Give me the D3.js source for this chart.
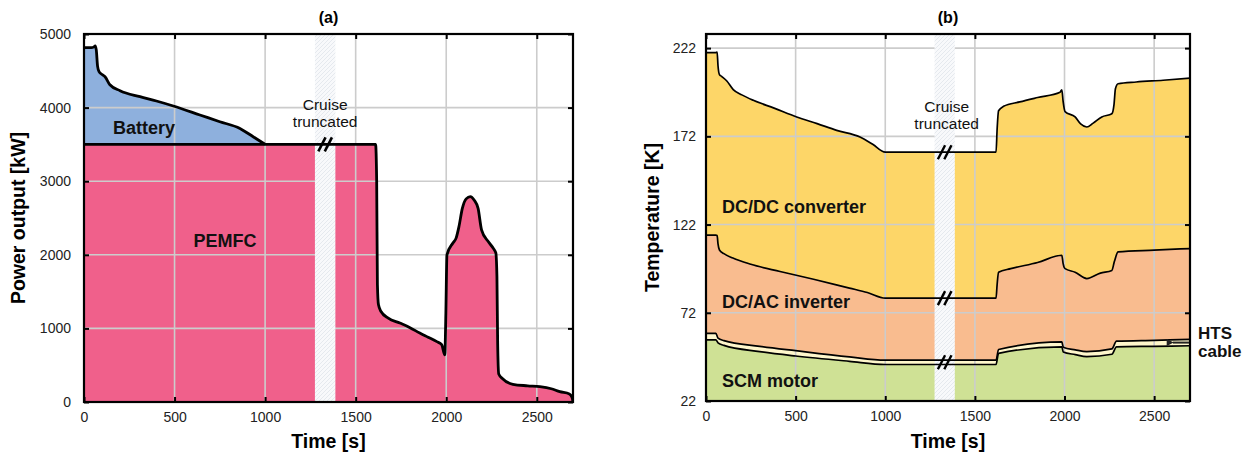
<!DOCTYPE html>
<html>
<head>
<meta charset="utf-8">
<script src="https://cdn.jsdelivr.net/npm/d3@7"></script>
<style>
  html, body { margin: 0; padding: 0; background: #ffffff; }
  svg { display: block; font-family: "Liberation Sans", Arial, Helvetica, sans-serif; }
</style>
</head>
<body>
<svg id="chart" width="1253" height="458"></svg>
<script>
// ---------------- DATA ----------------
const xTicks = [0, 500, 1000, 1500, 2000, 2500];
const powerTicks = [0, 1000, 2000, 3000, 4000, 5000];
const tempTicks = [22, 72, 122, 172, 222];
const truncatedSpan = [1275, 1388];

// Panel (a): total power (battery on top of PEMFC) while the battery assists
const totalPower = [
  [0, 4815], [40, 4815], [55, 4825], [62, 4840], [68, 4780], [75, 4560], [83, 4490],
  [100, 4450], [116, 4420], [143, 4310], [199, 4230], [309, 4148], [400, 4090],
  [493, 4022], [640, 3900], [750, 3808], [861, 3717], [934, 3604], [1000, 3500]
];
const batteryBase = 3500;
// PEMFC power
const pemfcPower = [
  [0, 3500], [1610, 3500], [1616, 3000], [1620, 1600], [1626, 1320], [1640, 1230],
  [1680, 1140], [1744, 1073], [1800, 1010], [1854, 937], [1900, 880], [1948, 820],
  [1975, 780], [1992, 640], [1998, 1200], [2004, 2000], [2037, 2160], [2055, 2230],
  [2070, 2380], [2089, 2630], [2110, 2760], [2133, 2790], [2155, 2740], [2176, 2630],
  [2195, 2340], [2232, 2180], [2262, 2080], [2274, 2025], [2280, 1700], [2284, 800],
  [2290, 380], [2310, 320], [2368, 240], [2450, 220], [2517, 208], [2580, 180],
  [2627, 140], [2680, 110], [2695, 60], [2700, 0]
];

// Panel (b): temperatures (top edge of each stacked layer)
const dcdcTemp = [
  [0, 219.5], [55, 219.5], [62, 219.8], [67, 212], [75, 207], [87, 206], [115, 203.5],
  [152, 198.5], [200, 195.5], [264, 192.4], [380, 188], [506, 183], [620, 179.2],
  [729, 175.4], [859, 171.6], [930, 167.5], [1000, 163], [1618, 163], [1624, 176],
  [1632, 186.5], [1660, 189], [1750, 191.5], [1850, 194], [1975, 197], [1985, 198.4],
  [1992, 192], [2003, 186], [2059, 183], [2090, 179], [2124, 177.3], [2160, 179.5],
  [2208, 183], [2264, 184.8], [2276, 190], [2284, 199], [2299, 201.8], [2400, 202.8],
  [2550, 203.8], [2700, 205]
];
const dcacTemp = [
  [0, 116], [55, 116], [62, 115.8], [67, 111], [75, 107.6], [100, 105.5], [150, 103],
  [250, 99.5], [413, 95.4], [600, 91], [800, 86], [900, 83.5], [1000, 80.3],
  [1618, 80.3], [1624, 88], [1632, 95], [1700, 97], [1850, 100.5], [1985, 104.6],
  [1992, 100], [2003, 97], [2059, 95], [2124, 91.4], [2200, 94.5], [2264, 96],
  [2278, 101], [2299, 106.5], [2500, 107.5], [2700, 108.4]
];
const htsTemp = [
  [0, 60.3], [55, 60.3], [67, 57.6], [100, 56.2], [300, 53], [500, 50.5], [800, 47],
  [1000, 45.2], [1618, 45.2], [1632, 51.2], [1985, 55.5], [1993, 52.5], [2060, 51],
  [2124, 50], [2264, 51.5], [2290, 55.9], [2500, 56.4], [2700, 56.9]
];
const scmTemp = [
  [0, 56.6], [55, 56.6], [67, 55], [100, 53.5], [300, 50], [500, 47.5], [800, 44.5],
  [1000, 42.7], [1618, 42.7], [1632, 49], [1985, 52.7], [1993, 49.8], [2060, 48.3],
  [2124, 47.1], [2264, 48.5], [2290, 52.7], [2500, 53], [2700, 53.3]
];

// ---------------- DRAWING ----------------
const svg = d3.select("#chart");
const defs = svg.append("defs");
const pat = defs.append("pattern").attr("id", "hatch").attr("patternUnits", "userSpaceOnUse")
  .attr("width", 4).attr("height", 4);
pat.append("rect").attr("width", 4).attr("height", 4).attr("fill", "#f8f9fb");
pat.append("path").attr("d", "M-1,1 l2,-2 M0,4 l4,-4 M3,5 l2,-2")
  .attr("stroke", "#e0e4eb").attr("stroke-width", 0.8);

const gridColor = "#cccccc";

function panel(opts) {
  const { x, y, id } = opts;
  const [x0, x1] = x.range();
  const [y0, y1] = y.range(); // y0 bottom, y1 top
  const g = svg.append("g");
  defs.append("clipPath").attr("id", "clip" + id).append("rect")
    .attr("x", x0).attr("y", y1).attr("width", x1 - x0).attr("height", y0 - y1);
  const plot = g.append("g").attr("clip-path", `url(#clip${id})`);
  return { g, plot, x0, x1, y0, y1 };
}

function drawGrid(plot, x, y, xs, ys, x0, x1, y0, y1) {
  plot.append("g").selectAll("line.vx").data(xs).join("line")
    .attr("x1", d => x(d)).attr("x2", d => x(d)).attr("y1", y0).attr("y2", y1)
    .attr("stroke", gridColor).attr("stroke-width", 1.6);
  plot.append("g").selectAll("line.hy").data(ys).join("line")
    .attr("y1", d => y(d)).attr("y2", d => y(d)).attr("x1", x0).attr("x2", x1)
    .attr("stroke", gridColor).attr("stroke-width", 1.6);
}

function drawBand(plot, x, y0, y1) {
  plot.append("rect").attr("x", x(truncatedSpan[0])).attr("y", y1)
    .attr("width", x(truncatedSpan[1]) - x(truncatedSpan[0])).attr("height", y0 - y1)
    .attr("fill", "url(#hatch)");
}

function breakMark(g, cx, cy, w) {
  [-3.2, 3.2].forEach(o => {
    g.append("line").attr("x1", cx + o - 3.6).attr("y1", cy + 7)
      .attr("x2", cx + o + 3.6).attr("y2", cy - 7)
      .attr("stroke", "#000").attr("stroke-width", w).attr("stroke-linecap", "butt");
  });
}

function drawAxes(g, x, y, yTicks, x0, x1, y0, y1, yPad) {
  const style = sel => {
    sel.select(".domain").remove();
    sel.selectAll(".tick line").attr("stroke", "#000").attr("stroke-width", 2);
    sel.selectAll(".tick text").attr("font-size", 14).attr("fill", "#222")
      .attr("font-family", "Liberation Sans, Arial, sans-serif");
  };
  g.append("g").attr("transform", `translate(0,${y0})`)
    .call(d3.axisBottom(x).tickValues(xTicks).tickSize(-5).tickPadding(10).tickFormat(d3.format("d")))
    .call(style);
  g.append("g").attr("transform", `translate(0,${y1})`)
    .call(d3.axisTop(x).tickValues(xTicks).tickSize(-5).tickFormat(""))
    .call(style);
  g.append("g").attr("transform", `translate(${x0},0)`)
    .call(d3.axisLeft(y).tickValues(yTicks).tickSize(-5).tickPadding(yPad).tickFormat(d3.format("d")))
    .call(style);
  g.append("g").attr("transform", `translate(${x1},0)`)
    .call(d3.axisRight(y).tickValues(yTicks).tickSize(-5).tickFormat(""))
    .call(style);
  g.append("rect").attr("x", x0).attr("y", y1).attr("width", x1 - x0).attr("height", y0 - y1)
    .attr("fill", "none").attr("stroke", "#000").attr("stroke-width", 2.2);
}

const curve = d3.curveMonotoneX;

// ---------- Panel (a) ----------
{
  const x = d3.scaleLinear().domain([0, 2700]).range([84, 573]);
  const y = d3.scaleLinear().domain([0, 5000]).range([402, 34]);
  const P = panel({ x, y, id: "a" });
  const { g, plot, x0, x1, y0, y1 } = P;

  plot.append("path").datum(totalPower)
    .attr("d", d3.area().x(d => x(d[0])).y0(y(batteryBase)).y1(d => y(d[1])).curve(curve))
    .attr("fill", "#8eb0dd");
  plot.append("path").datum(pemfcPower)
    .attr("d", d3.area().x(d => x(d[0])).y0(y(0)).y1(d => y(d[1])).curve(curve))
    .attr("fill", "#f0608b");

  drawGrid(plot, x, y, [500, 1000, 1500, 2000, 2500], [1000, 2000, 3000, 4000], x0, x1, y0, y1);
  drawBand(plot, x, y0, y1);

  const line = d3.line().x(d => x(d[0])).y(d => y(d[1])).curve(curve);
  plot.append("path").datum(totalPower).attr("d", line)
    .attr("fill", "none").attr("stroke", "#000").attr("stroke-width", 2.8).attr("stroke-linejoin", "round");
  plot.append("path").datum(pemfcPower).attr("d", line)
    .attr("fill", "none").attr("stroke", "#000").attr("stroke-width", 2.8).attr("stroke-linejoin", "round");

  const cx = (x(truncatedSpan[0]) + x(truncatedSpan[1])) / 2;
  breakMark(g, cx, y(3500), 2.6);

  drawAxes(g, x, y, powerTicks, x0, x1, y0, y1, 13);

  g.append("text").attr("x", cx).attr("y", 110).attr("text-anchor", "middle")
    .attr("font-size", 15.5).attr("fill", "#111").text("Cruise");
  g.append("text").attr("x", cx).attr("y", 127).attr("text-anchor", "middle")
    .attr("font-size", 15.5).attr("fill", "#111").text("truncated");
  g.append("text").attr("x", 113).attr("y", 134).attr("font-size", 18).attr("font-weight", "bold")
    .attr("fill", "#111").text("Battery");
  g.append("text").attr("x", 225).attr("y", 247).attr("text-anchor", "middle").attr("font-size", 18)
    .attr("font-weight", "bold").attr("fill", "#111").text("PEMFC");

  g.append("text").attr("x", (x0 + x1) / 2).attr("y", 23).attr("text-anchor", "middle")
    .attr("font-size", 16).attr("font-weight", "bold").text("(a)");
  g.append("text").attr("x", (x0 + x1) / 2).attr("y", 448).attr("text-anchor", "middle")
    .attr("font-size", 19.5).attr("font-weight", "bold").text("Time [s]");
  g.append("text").attr("transform", `translate(25,${(y0 + y1) / 2}) rotate(-90)`)
    .attr("text-anchor", "middle").attr("font-size", 19.5).attr("font-weight", "bold")
    .text("Power output [kW]");
}

// ---------- Panel (b) ----------
{
  const x = d3.scaleLinear().domain([0, 2700]).range([706, 1190]);
  const y = d3.scaleLinear().domain([22, 230]).range([401, 34]);
  const P = panel({ x, y, id: "b" });
  const { g, plot, x0, x1, y0, y1 } = P;

  const layers = [
    { data: dcdcTemp, fill: "#fdd668" },
    { data: dcacTemp, fill: "#f9bc8f" },
    { data: htsTemp, fill: "#fff7cc" },
    { data: scmTemp, fill: "#cfe195" }
  ];
  layers.forEach(L => {
    plot.append("path").datum(L.data)
      .attr("d", d3.area().x(d => x(d[0])).y0(y(22)).y1(d => y(d[1])).curve(curve))
      .attr("fill", L.fill);
  });

  drawGrid(plot, x, y, [500, 1000, 1500, 2000, 2500], [72, 122, 172, 222], x0, x1, y0, y1);
  drawBand(plot, x, y0, y1);

  const line = d3.line().x(d => x(d[0])).y(d => y(d[1])).curve(curve);
  layers.forEach(L => {
    plot.append("path").datum(L.data).attr("d", line)
      .attr("fill", "none").attr("stroke", "#000").attr("stroke-width", 1.7).attr("stroke-linejoin", "round");
  });

  const cx = (x(truncatedSpan[0]) + x(truncatedSpan[1])) / 2;
  breakMark(g, cx, y(163), 2.4);
  breakMark(g, cx, y(80.3), 2.4);
  breakMark(g, cx, y(44), 2.4);

  drawAxes(g, x, y, tempTicks, x0, x1, y0, y1, 10);

  g.append("text").attr("x", cx + 2).attr("y", 112).attr("text-anchor", "middle")
    .attr("font-size", 15.5).attr("fill", "#111").text("Cruise");
  g.append("text").attr("x", cx + 2).attr("y", 129).attr("text-anchor", "middle")
    .attr("font-size", 15.5).attr("fill", "#111").text("truncated");
  g.append("text").attr("x", 722).attr("y", 213).attr("font-size", 18).attr("font-weight", "bold")
    .attr("fill", "#111").text("DC/DC converter");
  g.append("text").attr("x", 722).attr("y", 308).attr("font-size", 18).attr("font-weight", "bold")
    .attr("fill", "#111").text("DC/AC inverter");
  g.append("text").attr("x", 722).attr("y", 387).attr("font-size", 18).attr("font-weight", "bold")
    .attr("fill", "#111").text("SCM motor");

  // HTS cable annotation
  defs.append("marker").attr("id", "arrowhead").attr("viewBox", "0 0 10 10").attr("refX", 1).attr("refY", 5)
    .attr("markerWidth", 4).attr("markerHeight", 3.5).attr("orient", "auto-start-reverse")
    .append("path").attr("d", "M0,5 L10,0 L10,10 Z").attr("fill", "#222");
  g.append("line").attr("x1", x1 - 1).attr("x2", x1 - 17).attr("y1", y(55.1)).attr("y2", y(55.1))
    .attr("stroke", "#222").attr("stroke-width", 2).attr("marker-end", "url(#arrowhead)");
  g.append("text").attr("x", 1198).attr("y", 339).attr("font-size", 17).attr("font-weight", "bold")
    .attr("fill", "#111").text("HTS");
  g.append("text").attr("x", 1198).attr("y", 357).attr("font-size", 17).attr("font-weight", "bold")
    .attr("fill", "#111").text("cable");

  g.append("text").attr("x", (x0 + x1) / 2).attr("y", 23).attr("text-anchor", "middle")
    .attr("font-size", 16).attr("font-weight", "bold").text("(b)");
  g.append("text").attr("x", (x0 + x1) / 2).attr("y", 448).attr("text-anchor", "middle")
    .attr("font-size", 19.5).attr("font-weight", "bold").text("Time [s]");
  g.append("text").attr("transform", `translate(659,${(y0 + y1) / 2}) rotate(-90)`)
    .attr("text-anchor", "middle").attr("font-size", 19.5).attr("font-weight", "bold")
    .text("Temperature [K]");
}
</script>
</body>
</html>
